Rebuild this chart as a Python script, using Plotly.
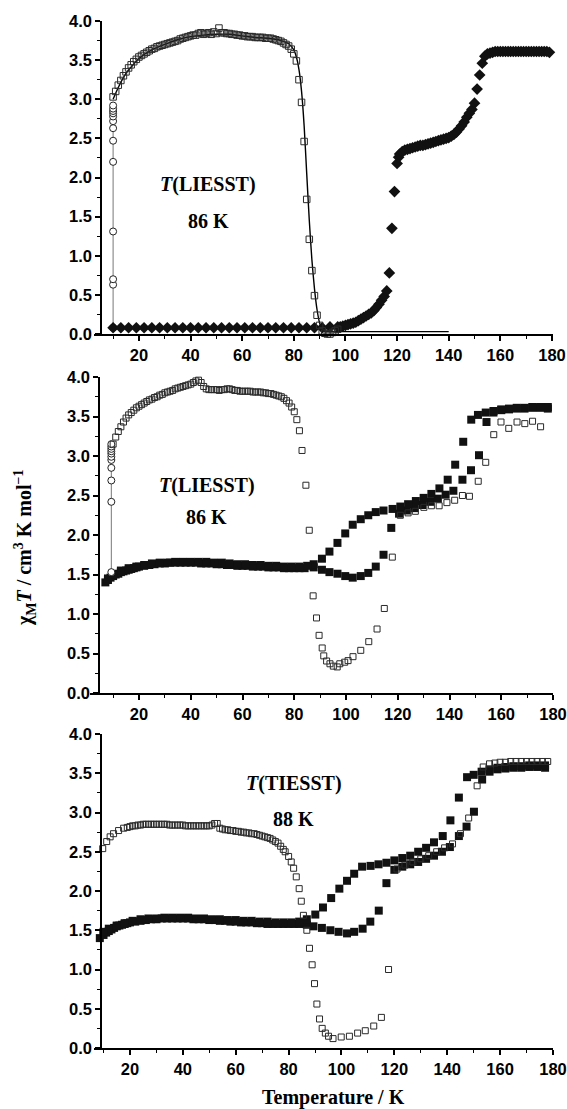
import plotly.graph_objects as go

W, H = 567, 1109

# ---------------- TOP PANEL ----------------
top_circ_T = [10.0] * 13
top_circ_y = [0.08, 0.63, 0.70, 1.31, 2.20, 2.47, 2.63, 2.72, 2.78, 2.82, 2.85, 2.88, 2.92]

top_sq_T = [10, 11, 12, 13, 14, 15, 16, 17, 18, 19, 20, 21, 22, 23, 24, 25, 26, 27, 28, 29,
            30, 31, 32, 33, 34, 35, 36, 37, 38, 39, 40, 41, 42, 43, 44, 45, 46, 47, 48, 49,
            50, 51, 52, 53, 54, 55, 56, 57, 58, 59, 60, 61, 62, 63, 64, 65, 66, 67, 68, 69,
            70, 71, 72, 73, 74, 75, 76, 77, 78, 79, 80, 81, 82, 83, 84, 85, 86, 87, 88, 89,
            90, 91, 92, 93, 94, 95, 96, 97]
top_sq_y = [3.03, 3.10, 3.18, 3.24, 3.30, 3.35, 3.40, 3.44, 3.48, 3.51, 3.54, 3.56, 3.58, 3.60, 3.62, 3.64, 3.65, 3.67, 3.68, 3.69,
            3.70, 3.71, 3.72, 3.73, 3.74, 3.75, 3.77, 3.78, 3.79, 3.80, 3.81, 3.82, 3.82, 3.84, 3.85, 3.83, 3.84, 3.85, 3.83, 3.86,
            3.84, 3.91, 3.85, 3.85, 3.84, 3.84, 3.83, 3.83, 3.82, 3.82, 3.81, 3.81, 3.80, 3.80, 3.80, 3.79, 3.79, 3.79, 3.79, 3.78,
            3.78, 3.78, 3.77, 3.76, 3.75, 3.74, 3.72, 3.70, 3.68, 3.64, 3.58, 3.49, 3.25, 2.96, 2.46, 1.72, 1.21, 0.81, 0.49, 0.24,
            0.11, 0.04, 0.01, 0.00, 0.00, 0.02, 0.04, 0.06]

top_fit_T = [10, 12, 15, 20, 25, 30, 35, 40, 45, 50, 55, 60, 65, 70, 74, 76, 78, 80, 81, 82,
             83, 84, 85, 86, 87, 88, 89, 90, 91, 92, 94, 100, 140]
top_fit_y = [3.00, 3.15, 3.33, 3.52, 3.63, 3.70, 3.76, 3.80, 3.82, 3.83, 3.83, 3.81, 3.79, 3.78, 3.76, 3.74, 3.71, 3.63, 3.54, 3.38,
             3.10, 2.66, 2.05, 1.45, 0.95, 0.58, 0.31, 0.14, 0.06, 0.035, 0.03, 0.03, 0.03]

top_dia_T = [10, 13, 16, 19, 22, 25, 28, 31, 34, 37, 40, 43, 46, 49, 52, 55, 58, 61, 64, 67,
             70, 73, 76, 79, 82, 85, 88, 91, 94, 97, 98, 99, 100, 101, 102, 103, 104, 105, 106, 107,
             108, 109, 110, 111, 112, 113, 114, 115, 116, 117, 118, 119, 120, 120.6, 121, 122, 123, 124, 125, 126,
             127, 128, 129, 130, 131, 132, 133, 134, 135, 136, 137, 138, 139, 140, 141, 142, 143, 144, 145, 146,
             147, 148, 149, 150, 151, 152, 153, 154, 155, 156, 157, 158, 159, 160, 161, 162, 163, 164, 165, 166,
             167, 168, 169, 170, 171, 172, 173, 174, 175, 176, 177, 178, 179]
top_dia_y = [0.08, 0.08, 0.08, 0.08, 0.08, 0.08, 0.08, 0.08, 0.08, 0.08, 0.08, 0.08, 0.08, 0.08, 0.08, 0.08, 0.08, 0.08, 0.08, 0.08,
             0.08, 0.08, 0.08, 0.08, 0.08, 0.08, 0.08, 0.08, 0.09, 0.09, 0.09, 0.10, 0.11, 0.12, 0.13, 0.14, 0.15, 0.17, 0.19, 0.21,
             0.23, 0.25, 0.27, 0.30, 0.34, 0.38, 0.43, 0.48, 0.55, 0.78, 1.35, 1.82, 2.18, 2.26, 2.30, 2.33, 2.35, 2.36, 2.37, 2.38,
             2.39, 2.40, 2.41, 2.41, 2.42, 2.43, 2.44, 2.45, 2.46, 2.47, 2.48, 2.49, 2.50, 2.51, 2.53, 2.55, 2.58, 2.62, 2.66, 2.71,
             2.77, 2.82, 2.87, 2.95, 3.13, 3.31, 3.46, 3.55, 3.58, 3.59, 3.60, 3.61, 3.61, 3.61, 3.61, 3.61, 3.61, 3.61, 3.61, 3.61,
             3.61, 3.61, 3.61, 3.61, 3.61, 3.61, 3.61, 3.61, 3.61, 3.61, 3.61, 3.61, 3.60]

# ---------------- MIDDLE PANEL ----------------
mid_circ_T = [9.3] * 11
mid_circ_y = [1.53, 2.42, 2.69, 2.85, 2.95, 2.99, 3.03, 3.06, 3.09, 3.12, 3.15]

mid_open_T = [10, 11, 12, 13, 14, 15, 16, 17, 18, 19, 20, 21, 22, 23, 24, 25, 26, 27, 28, 29,
              30, 31, 32, 33, 34, 35, 36, 37, 38, 39, 40, 41, 42, 43, 44, 45, 46, 47, 48, 49,
              50, 51, 52, 53, 54, 55, 56, 57, 58, 59, 60, 61, 62, 63, 64, 65, 66, 67, 68, 69,
              70, 71, 72, 73, 74, 75, 76, 77, 78, 79, 80, 81, 82, 83, 84.5, 85.8, 87.3, 88.6, 89.6, 90.8,
              91.4, 92.5, 93.8, 95.1, 96.6, 97.6, 99.5, 100.8, 102.7, 105.7, 108.8, 112, 114.8, 117.9, 121, 124,
              126.8, 130.1, 133, 136, 139, 142, 145, 147.7, 151.1, 154, 157.1, 159.9, 162.9, 166.1, 169.1, 172.1, 175.2]
mid_open_y = [3.15, 3.24, 3.31, 3.37, 3.43, 3.48, 3.52, 3.55, 3.58, 3.61, 3.63, 3.65, 3.67, 3.69, 3.71, 3.72, 3.74, 3.75, 3.77, 3.78,
              3.80, 3.81, 3.82, 3.83, 3.85, 3.86, 3.87, 3.88, 3.89, 3.90, 3.91, 3.93, 3.95, 3.96, 3.93, 3.88, 3.85, 3.84, 3.84, 3.84,
              3.84, 3.83, 3.84, 3.84, 3.85, 3.85, 3.84, 3.83, 3.83, 3.82, 3.82, 3.82, 3.82, 3.82, 3.81, 3.81, 3.81, 3.81, 3.80, 3.80,
              3.79, 3.79, 3.78, 3.77, 3.76, 3.75, 3.73, 3.70, 3.67, 3.62, 3.56, 3.46, 3.32, 3.07, 2.63, 2.06, 1.23, 0.95, 0.73, 0.57,
              0.47, 0.405, 0.37, 0.34, 0.33, 0.37, 0.39, 0.41, 0.46, 0.54, 0.65, 0.81, 1.07, 1.72, 2.25, 2.28,
              2.30, 2.35, 2.37, 2.37, 2.41, 2.44, 2.50, 2.49, 2.68, 2.92, 3.27, 3.43, 3.35, 3.43, 3.41, 3.44, 3.37]

mid_heat_T = [7, 8, 9, 10, 11, 12, 13, 14, 15, 16, 17, 18, 19, 20, 22, 24, 26, 28, 30, 32,
              34, 36, 38, 40, 42, 44, 46, 48, 50, 52, 54, 56, 58, 60, 62, 64, 66, 68, 70, 72,
              74, 76, 78, 80, 82, 84, 87.5, 90.7, 93.6, 96.7, 99.7, 102.6, 105.7, 108.6, 111.5, 114.5, 117.5, 120.5, 123.5, 126.5,
              129.5, 132.5, 135.5, 138.5, 141.5, 145, 148.3, 151.4, 154.3, 157, 160, 163, 166, 169, 172, 175, 178]
mid_heat_y = [1.40, 1.43, 1.46, 1.48, 1.50, 1.51, 1.53, 1.54, 1.55, 1.56, 1.57, 1.58, 1.59, 1.60, 1.61, 1.62, 1.63, 1.64, 1.64, 1.65,
              1.65, 1.65, 1.65, 1.65, 1.65, 1.64, 1.64, 1.64, 1.63, 1.63, 1.62, 1.62, 1.61, 1.61, 1.61, 1.60, 1.60, 1.60, 1.59, 1.59,
              1.59, 1.58, 1.58, 1.58, 1.58, 1.58, 1.59, 1.56, 1.53, 1.51, 1.48, 1.46, 1.48, 1.52, 1.60, 1.75, 2.09, 2.27, 2.31, 2.34,
              2.38, 2.42, 2.46, 2.51, 2.56, 2.70, 2.82, 3.01, 3.43, 3.55, 3.58, 3.59, 3.60, 3.60, 3.61, 3.61, 3.60]

mid_cool_T = [178, 175, 172, 169, 166, 163, 160, 157, 154, 151, 148.4, 145.3, 142.2, 139.3, 136.1, 133, 130, 127, 124, 121,
              118, 114.5, 111.5, 108.6, 105.7, 102.6, 99.7, 96.7, 93.6, 90.7, 87.5, 85, 82, 79, 76, 73, 70, 67, 64, 61,
              58, 55, 52, 49, 46, 43, 40, 37, 34, 31, 28, 25, 22, 19, 16, 13, 10, 8]
mid_cool_y = [3.62, 3.62, 3.62, 3.61, 3.61, 3.60, 3.59, 3.57, 3.55, 3.52, 3.46, 3.18, 2.89, 2.70, 2.59, 2.52, 2.47, 2.43, 2.39, 2.36,
              2.33, 2.31, 2.29, 2.25, 2.20, 2.13, 2.02, 1.90, 1.79, 1.70, 1.63, 1.61, 1.60, 1.60, 1.60, 1.61, 1.61, 1.62, 1.62, 1.63,
              1.63, 1.64, 1.65, 1.65, 1.66, 1.66, 1.66, 1.66, 1.66, 1.65, 1.65, 1.64, 1.62, 1.60, 1.58, 1.55, 1.50, 1.45]

# ---------------- BOTTOM PANEL ----------------
bot_open_T = [9.7, 11.2, 12.5, 13.8, 15.7, 17.6, 19, 20, 21, 22, 23, 24, 25, 26, 27, 28, 29, 30, 31, 32,
              33, 34, 35, 36, 37, 38, 39, 40, 41, 42, 43, 44, 45, 46, 47, 48, 49, 50, 51, 52,
              53, 54, 55, 56, 57, 58, 59, 60, 61, 62, 63, 64, 65, 66, 67, 68, 69, 70, 71, 72,
              73, 74, 75, 76, 77, 78, 78.7, 80, 81, 81.9, 82.9, 84, 84.8, 85.6, 86.9, 87.9, 88.9, 89.8, 90.7, 91.7,
              92.7, 93.9, 95.1, 96.8, 99.9, 103, 106.1, 109, 112.2, 115.1, 117.8, 121, 124, 127, 130, 133, 136, 139, 142, 145,
              148.1, 151.3, 153.6, 156, 158, 160, 162, 164, 166, 168, 170, 172, 174, 176, 178]
bot_open_y = [2.54, 2.63, 2.69, 2.73, 2.77, 2.80, 2.81, 2.82, 2.83, 2.83, 2.84, 2.84, 2.85, 2.85, 2.85, 2.85, 2.85, 2.85, 2.85, 2.85,
              2.85, 2.85, 2.84, 2.84, 2.84, 2.84, 2.84, 2.84, 2.83, 2.83, 2.83, 2.83, 2.83, 2.83, 2.83, 2.83, 2.83, 2.83, 2.84, 2.86,
              2.86, 2.80, 2.79, 2.78, 2.78, 2.77, 2.77, 2.76, 2.76, 2.75, 2.75, 2.74, 2.74, 2.73, 2.73, 2.72, 2.71, 2.70, 2.69, 2.68,
              2.67, 2.65, 2.63, 2.61, 2.57, 2.53, 2.50, 2.44, 2.37, 2.29, 2.18, 2.03, 1.87, 1.69, 1.50, 1.27, 1.06, 0.82, 0.56, 0.37,
              0.25, 0.19, 0.15, 0.12, 0.14, 0.15, 0.19, 0.22, 0.28, 0.39, 1.00, 2.28, 2.33, 2.37, 2.41, 2.45, 2.50, 2.55, 2.60, 2.73,
              2.93, 3.34, 3.58, 3.62, 3.63, 3.64, 3.64, 3.65, 3.65, 3.65, 3.65, 3.65, 3.65, 3.65, 3.65]

bot_heat_T = [8.6, 10, 11, 12, 13, 14, 15, 16, 17, 18, 19, 20, 22, 24, 26, 28, 30, 32, 34, 36,
              38, 40, 42, 44, 46, 48, 50, 52, 54, 56, 58, 60, 62, 64, 66, 68, 70, 72, 74, 76,
              78, 80, 82, 84, 86.9, 89.4, 92.6, 95.8, 98.9, 102.1, 104.8, 108, 110.9, 114.1, 117, 120, 123, 126, 129, 132,
              135, 138, 141, 144.4, 147.3, 150.1, 153.2, 156, 159, 162, 165, 168, 171, 174, 177]
bot_heat_y = [1.40, 1.44, 1.47, 1.49, 1.51, 1.53, 1.55, 1.56, 1.57, 1.58, 1.59, 1.60, 1.61, 1.62, 1.63, 1.64, 1.64, 1.65, 1.65, 1.65,
              1.65, 1.65, 1.65, 1.64, 1.64, 1.64, 1.63, 1.63, 1.62, 1.62, 1.61, 1.61, 1.60, 1.60, 1.60, 1.59, 1.59, 1.58, 1.58, 1.58,
              1.58, 1.58, 1.58, 1.58, 1.57, 1.55, 1.53, 1.50, 1.48, 1.46, 1.48, 1.52, 1.61, 1.75, 2.10, 2.27, 2.31, 2.34, 2.37, 2.41,
              2.45, 2.50, 2.56, 2.70, 2.82, 3.01, 3.42, 3.52, 3.55, 3.56, 3.57, 3.57, 3.58, 3.58, 3.57]

bot_cool_T = [177, 174, 171, 168, 165, 162, 159, 156, 153, 150, 147.5, 144.4, 141.2, 138.3, 135, 132, 129, 126, 123, 120,
              117, 114, 111, 107.8, 104.8, 102.1, 99.2, 96.1, 93, 90.1, 86.9, 84, 81, 78, 75, 72, 69, 66, 63, 60,
              57, 54, 51, 48, 45, 42, 39, 36, 33, 30, 27, 24, 21, 18, 15, 12, 10]
bot_cool_y = [3.60, 3.60, 3.60, 3.59, 3.59, 3.58, 3.57, 3.55, 3.52, 3.48, 3.45, 3.19, 2.90, 2.70, 2.62, 2.55, 2.50, 2.45, 2.42, 2.39,
              2.36, 2.34, 2.32, 2.31, 2.22, 2.13, 2.03, 1.91, 1.79, 1.70, 1.64, 1.61, 1.60, 1.60, 1.60, 1.61, 1.61, 1.62, 1.62, 1.63,
              1.63, 1.64, 1.64, 1.65, 1.65, 1.66, 1.66, 1.66, 1.66, 1.65, 1.65, 1.64, 1.62, 1.59, 1.56, 1.52, 1.48]

# ---------------- FIGURE ----------------
fig = go.Figure()

def open_sq(x, y, xa, ya, size=6):
    fig.add_trace(go.Scatter(x=x, y=y, mode="markers", xaxis=xa, yaxis=ya, cliponaxis=False,
                             marker=dict(symbol="square-open", size=size, color="#2a2a2a",
                                         line=dict(width=1, color="#2a2a2a"))))

def filled(x, y, xa, ya, symbol="square", size=8):
    fig.add_trace(go.Scatter(x=x, y=y, mode="markers", xaxis=xa, yaxis=ya, cliponaxis=False,
                             marker=dict(symbol=symbol, size=size, color="#111111",
                                         line=dict(width=0))))

def circles(x, y, xa, ya):
    fig.add_trace(go.Scatter(x=x, y=y, mode="lines+markers", xaxis=xa, yaxis=ya, cliponaxis=False,
                             line=dict(color="#777777", width=1),
                             marker=dict(symbol="circle", size=7, color="white",
                                         line=dict(width=1, color="#222222"))))

# top
circles(top_circ_T, top_circ_y, "x", "y")
fig.add_trace(go.Scatter(x=top_fit_T, y=top_fit_y, mode="lines", xaxis="x", yaxis="y",
                         line=dict(color="black", width=1.4, shape="spline", smoothing=0.6)))
filled(top_dia_T, top_dia_y, "x", "y", symbol="diamond", size=9)
open_sq(top_sq_T, top_sq_y, "x", "y", size=6.5)

# middle
filled(mid_heat_T, mid_heat_y, "x2", "y2", size=8)
filled(mid_cool_T, mid_cool_y, "x2", "y2", size=8)
circles(mid_circ_T, mid_circ_y, "x2", "y2")
open_sq(mid_open_T, mid_open_y, "x2", "y2", size=6)

# bottom
filled(bot_heat_T, bot_heat_y, "x3", "y3", size=8)
filled(bot_cool_T, bot_cool_y, "x3", "y3", size=8)
open_sq(bot_open_T, bot_open_y, "x3", "y3", size=6)

tickfont = dict(family="Liberation Sans, Arial, sans-serif", size=16.5, color="black", weight="bold")

def xax(dom, rng, anchor):
    return dict(domain=dom, range=rng, anchor=anchor, showline=True, linecolor="black", linewidth=1.5,
                ticks="outside", ticklen=5, tickwidth=1.5, tickcolor="black", tick0=0, dtick=20,
                minor=dict(dtick=10, ticks="outside", ticklen=3, tickwidth=1.2, tickcolor="black"),
                showgrid=False, zeroline=False, tickfont=tickfont, automargin=False, mirror=False)

def yax(dom, pos):
    return dict(domain=dom, range=[0, 4], anchor="free", position=pos, showline=True, linecolor="black",
                linewidth=1.5, ticks="outside", ticklen=5, tickwidth=1.5, tickcolor="black",
                tick0=0, dtick=0.5, tickformat=".1f",
                minor=dict(dtick=0.25, ticks="outside", ticklen=3, tickwidth=1.2, tickcolor="black"),
                showgrid=False, zeroline=False, tickfont=tickfont, automargin=False)

fig.update_layout(
    width=W, height=H, margin=dict(l=0, r=0, t=0, b=0),
    paper_bgcolor="white", plot_bgcolor="white", showlegend=False,
    xaxis=xax([94 / W, 553 / W], [2.6, 180.4], "y"),
    yaxis=yax([1 - 334 / H, 1 - 21 / H], 101 / W),
    xaxis2=xax([90 / W, 553 / W], [1.06, 180], "y2"),
    yaxis2=yax([1 - 693 / H, 1 - 377 / H], 99 / W),
    xaxis3=xax([94 / W, 553 / W], [6.4, 180], "y3"),
    yaxis3=yax([1 - 1048 / H, 1 - 734 / H], 101 / W),
)

serif = dict(family="Liberation Serif, Times New Roman, serif", size=20, color="black", weight="bold")

def ann(text, xp, yp, **kw):
    d = dict(text=text, x=xp / W, y=1 - yp / H, xref="paper", yref="paper", showarrow=False,
             xanchor="center", yanchor="middle", font=serif)
    d.update(kw)
    fig.add_annotation(**d)

ann("<i>T</i>(LIESST)", 208, 185)
ann("86 K", 208, 221)
ann("<i>T</i>(LIESST)", 207, 485)
ann("86 K", 206, 517)
ann("<i>T</i>(TIESST)", 294, 783)
ann("88 K", 293, 819)
ann("χ<sub>M</sub><i>T</i> / cm<sup>3</sup> K mol<sup>−1</sup>", 25, 548, textangle=-90)
ann("Temperature / K", 333, 1097)

fig.write_html("out.html")
